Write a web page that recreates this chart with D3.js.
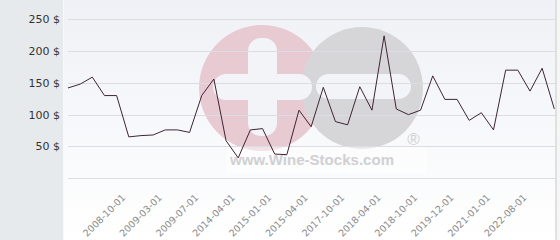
<!DOCTYPE html>
<html>
<head>
<meta charset="utf-8">
<script src="https://cdn.jsdelivr.net/npm/d3@7"></script>
<style>
  html, body { margin: 0; padding: 0; background: #fff; }
  svg { display: block; }
</style>
</head>
<body>
<div id="chart"></div>
<script>
// Price per bottle, one value per listing (41 points)
const prices = [
  142, 148, 159, 130, 130, 65, 67, 68, 76, 76,
  72, 130, 156, 59, 32, 76, 78, 38, 37, 107,
  81, 143, 89, 84, 144, 107, 224, 109, 100, 107,
  161, 124, 124, 91, 103, 76, 170, 170, 137, 173,
  109
];

// Only every third date is labelled on the axis
const dateLabels = [
  '2008-10-01', '2009-03-01', '2009-07-01', '2014-04-01',
  '2015-01-01', '2015-04-01', '2017-10-01', '2018-04-01',
  '2018-10-01', '2019-12-01', '2021-01-01', '2022-08-01'
];
const firstLabelIndex = 4;
const labelStep = 3;

const yTicks = [0, 50, 100, 150, 200, 250];

const DIMENSIONS = {
  width: 560,
  height: 240,
  panel: 63,
  plot: { left: 68, right: 554.3, top: 19.3, bottom: 178.2, edge: 555.5 }
};

const COLORS = {
  panel:   '#e7eaed',
  bgTop:   '#eff1f6',
  bgBot:   '#ffffff',
  grid:    '#dcdde3',
  line:    '#3e2533',
  yText:   '#333333',
  xText:   '#8a8a8a',
  pink:    '#e8cad3',
  grey:    '#d6d6d8',
  mark:    '#d0d0d2'
};

let svg = d3.select('#chart').append('svg')
  .attr('width', DIMENSIONS.width)
  .attr('height', DIMENSIONS.height);

let grad = svg.append('defs').append('linearGradient')
  .attr('id', 'bg')
  .attr('x1', 0).attr('y1', 0).attr('x2', 0).attr('y2', 1);
grad.append('stop').attr('offset', '0%').attr('stop-color', COLORS.bgTop);
grad.append('stop').attr('offset', '100%').attr('stop-color', COLORS.bgBot);

// Backgrounds
svg.append('rect')
  .attr('width', DIMENSIONS.width)
  .attr('height', DIMENSIONS.height)
  .style('fill', '#f6f6f7');
svg.append('rect')
  .attr('x', DIMENSIONS.panel)
  .attr('width', DIMENSIONS.plot.edge - DIMENSIONS.panel)
  .attr('height', DIMENSIONS.height)
  .style('fill', 'url(#bg)');
svg.append('rect')
  .attr('width', DIMENSIONS.panel)
  .attr('height', DIMENSIONS.height)
  .style('fill', COLORS.panel);
svg.append('line')
  .attr('x1', DIMENSIONS.panel + 0.5).attr('x2', DIMENSIONS.panel + 0.5)
  .attr('y1', 0).attr('y2', DIMENSIONS.height)
  .style('stroke', '#f7f8fa');
svg.append('line')
  .attr('x1', DIMENSIONS.plot.edge + 0.5).attr('x2', DIMENSIONS.plot.edge + 0.5)
  .attr('y1', 0).attr('y2', DIMENSIONS.height)
  .style('stroke', '#c9c9cc');

// Watermark logo
let logo = svg.append('g');
logo.append('circle')
  .attr('cx', 262).attr('cy', 88).attr('r', 63)
  .style('fill', COLORS.pink);
logo.append('circle')
  .attr('cx', 362).attr('cy', 88).attr('r', 61)
  .style('fill', COLORS.grey);
// plus
logo.append('rect')
  .attr('x', 248).attr('y', 38).attr('width', 29).attr('height', 98)
  .attr('rx', 13)
  .style('fill', '#f3f4f8');
logo.append('rect')
  .attr('x', 213).attr('y', 74).attr('width', 99).attr('height', 26)
  .attr('rx', 13)
  .style('fill', '#f3f4f8');
// minus
logo.append('rect')
  .attr('x', 316).attr('y', 74).attr('width', 95).attr('height', 25)
  .attr('rx', 12.5)
  .style('fill', '#f3f4f8');
logo.append('rect')
  .attr('x', 226).attr('y', 147).attr('width', 201).attr('height', 26)
  .style('fill', '#fff')
  .style('opacity', 0.45);
logo.append('text')
  .text('www.Wine-Stocks.com')
  .attr('x', 230).attr('y', 165)
  .attr('textLength', 164)
  .attr('font-family', 'Liberation Sans, Arial, sans-serif')
  .attr('font-weight', 'bold')
  .attr('font-size', 15)
  .style('fill', COLORS.mark);
logo.append('text')
  .text('\u00ae')
  .attr('x', 413.5).attr('y', 145)
  .attr('text-anchor', 'middle')
  .attr('font-family', 'Liberation Sans, Arial, sans-serif')
  .attr('font-size', 17)
  .style('fill', COLORS.mark);

// Scales
let xScale = d3.scaleLinear()
  .domain([0, prices.length - 1])
  .range([DIMENSIONS.plot.left, DIMENSIONS.plot.right]);
let yScale = d3.scaleLinear()
  .domain([0, 250])
  .range([DIMENSIONS.plot.bottom, DIMENSIONS.plot.top]);

// Y axis with gridlines
let yAxis = svg.append('g')
  .attr('transform', `translate(${DIMENSIONS.plot.left},0)`)
  .call(d3.axisLeft(yScale)
    .tickValues(yTicks)
    .tickSize(-(DIMENSIONS.plot.edge - DIMENSIONS.plot.left))
    .tickPadding(8)
    .tickFormat(d => d ? `${d} $` : ''));
yAxis.select('.domain').remove();
yAxis.selectAll('.tick line')
  .style('stroke', COLORS.grid)
  .style('shape-rendering', 'crispEdges');
yAxis.selectAll('.tick text')
  .attr('font-family', 'DejaVu Sans, sans-serif')
  .attr('font-size', 11)
  .style('fill', COLORS.yText);

// X axis, labels on every third point
let labelIndex = dateLabels.map((d, i) => firstLabelIndex + i * labelStep);
let xAxis = svg.append('g')
  .attr('transform', `translate(0,${DIMENSIONS.plot.bottom})`)
  .call(d3.axisBottom(xScale)
    .tickValues(labelIndex)
    .tickSize(0)
    .tickFormat((d, i) => dateLabels[i]));
xAxis.select('.domain').remove();
xAxis.selectAll('.tick text')
  .attr('font-family', 'DejaVu Sans, sans-serif')
  .attr('font-size', 9.5)
  .attr('text-anchor', 'end')
  .attr('dy', 0)
  .attr('y', 0)
  .attr('transform', 'translate(9,20) rotate(-45)')
  .style('fill', COLORS.xText);

// Price line
let line = d3.line()
  .x((d, i) => xScale(i))
  .y(d => yScale(d));

svg.append('path')
  .datum(prices)
  .attr('d', line)
  .style('fill', 'none')
  .style('stroke', COLORS.line)
  .style('stroke-width', 1)
  .style('stroke-linejoin', 'miter');
</script>
</body>
</html>
